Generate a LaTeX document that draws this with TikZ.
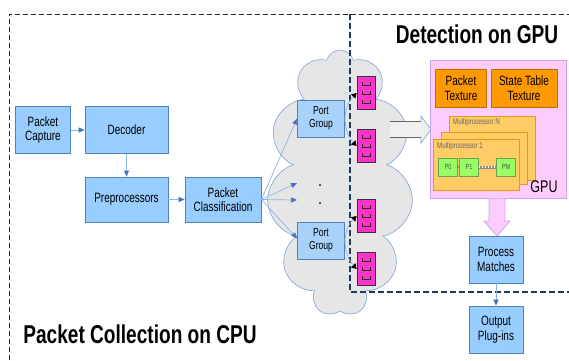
\documentclass[tikz,border=0pt]{standalone}
\usepackage{fontspec}
\newfontfamily\narrowsf[FakeStretch=0.74]{Liberation Sans}
\usetikzlibrary{shapes.symbols,arrows.meta}

\definecolor{boxblue}{HTML}{99CCFF}
\definecolor{boxedge}{HTML}{4F81BD}
\definecolor{portblue}{HTML}{A9D2FA}
\definecolor{lineblue}{HTML}{8DB4E2}
\definecolor{tipblue}{HTML}{4472C4}
\definecolor{queuepink}{HTML}{FF33CC}
\definecolor{cloudgray}{HTML}{E6E6E6}
\definecolor{cloudedge}{HTML}{7FA2D6}
\definecolor{gpupink}{HTML}{FFCCFF}
\definecolor{gpuedge}{HTML}{C8A4F0}
\definecolor{texorange}{HTML}{FF9900}
\definecolor{texedge}{HTML}{C07000}
\definecolor{mporange}{HTML}{FFCC66}
\definecolor{mpedge}{HTML}{E69A1A}
\definecolor{pgreen}{HTML}{99FF66}
\definecolor{pedge}{HTML}{6E9E50}
\definecolor{gpunavy}{HTML}{1F3A60}

\begin{document}
\begin{tikzpicture}[
		x=1pt, y=-1pt,
		every node/.style={font=\narrowsf\fontsize{13.5}{14.5}\selectfont, align=center, inner sep=0pt},
		stage/.style={rectangle, draw=boxedge, fill=boxblue, line width=0.8pt},
		portbox/.style={stage, fill=portblue, font=\narrowsf\fontsize{11.6}{13}\selectfont},
		queuebox/.style={rectangle, draw=black!80, fill=queuepink, line width=0.8pt, minimum width=18pt, minimum height=33pt},
		texbox/.style={rectangle, draw=texedge, fill=texorange, line width=0.6pt, minimum height=38pt},
		mpbox/.style={rectangle, draw=mpedge, fill=mporange, line width=0.6pt, minimum width=86pt},
		procbox/.style={rectangle, draw=pedge, fill=pgreen, line width=0.6pt, minimum width=19pt, minimum height=18pt, font=\narrowsf\fontsize{7.5}{8}\selectfont, text=black!70},
		title/.style={font=\narrowsf\bfseries\fontsize{25.8}{27}\selectfont},
		flow/.style={lineblue, line width=0.7pt, -{Triangle[length=6pt, width=5pt, color=tipblue]}},
		qflow/.style={lineblue, line width=0.7pt, -{Triangle[length=5pt, width=6pt, color=black]}}
	]
  \useasboundingbox (0,0) rectangle (569,360);
  % cloud behind everything
  \node (cloud) [cloud, cloud puffs=11, cloud ignores aspect, minimum width=146pt, minimum height=266pt, draw=cloudedge, fill=cloudgray, line width=0.6pt] at (340,183) {};
  % the two regions
  \draw[black!85, line width=1pt, dash pattern=on 5pt off 3pt] (9,360) -- (9,14) -- (569,14);
  \draw[gpunavy, line width=1.4pt, dash pattern=on 6pt off 3pt] (350,14) -- (350,292) -- (569,292);
  \node (cpu_title) [title] at (140,334) {Packet Collection on CPU};
  \node (gpu_title) [title] at (477,34) {Detection on GPU};

  \node (pkt_capture) [stage, minimum width=55pt, minimum height=47pt] at (43,130) {Packet\\Capture};
  \node (decoder) [stage, minimum width=83pt, minimum height=47pt] at (126.5,130) {Decoder};
  \node (preproc) [stage, minimum width=83pt, minimum height=45pt] at (126.5,199.5) {Preprocessors};
  \node (classify) [stage, minimum width=76pt, minimum height=45pt] at (223,199.5) {Packet\\Classification};
  \node (port_top) [portbox, minimum width=47pt, minimum height=37pt] at (321,118.5) {Port\\Group};
  \node (port_bot) [portbox, minimum width=47pt, minimum height=37pt] at (321,240.5) {Port\\Group};
  \node (dot_a) [circle, fill=black, minimum size=2pt] at (320,185) {};
  \node (dot_b) [circle, fill=black, minimum size=2pt] at (320,203) {};
  \coordinate (to_dot_a) at (297,183);
  \coordinate (to_dot_b) at (297,200);

  \node (q_1) [queuebox] at (366,93) {};
  \node (q_2) [queuebox] at (366,146) {};
  \node (q_3) [queuebox] at (366,216) {};
  \node (q_4) [queuebox] at (366,269) {};
  \foreach \q in {q_1,q_2,q_3,q_4}
    \foreach \dy in {-9,0,9}
      \draw[black!85, line width=0.6pt, shift={(\q)}] (-4,\dy-2) -- (-4,\dy+1.5) -- (4,\dy+1.5) -- (4,\dy-2);

  % big hollow arrow into the GPU
  \fill[cloudgray!60!white] (390,121.5) -- (421,121.5) -- (421,116) -- (431,129.5) -- (421,143) -- (421,137.5) -- (390,137.5) -- cycle;
  \draw[black!60, line width=0.6pt] (390,121.5) -- (421,121.5);
  \draw[black!60, line width=0.6pt] (390,137.5) -- (421,137.5);
  \draw[cloudedge, line width=0.6pt] (421,121.5) -- (421,116) -- (431,129.5) -- (421,143) -- (421,137.5);

  \node (gpu) [rectangle, draw=gpuedge, fill=gpupink, line width=0.8pt, minimum width=136pt, minimum height=138pt] at (498,129) {};
  \node (pkt_tex) [texbox, minimum width=51pt] at (461,88) {Packet\\Texture};
  \node (state_tex) [texbox, minimum width=66pt] at (524,88) {State Table\\Texture};
  \node (mp_n) [mpbox, minimum height=64pt] at (492,148) {};
  \node (mp_mid) [mpbox, minimum height=52pt] at (484,158) {};
  \node (mp_1) [mpbox, minimum height=51pt] at (476,164.5) {};
  \node (mp_n_label) [anchor=west, font=\narrowsf\fontsize{8.4}{9}\selectfont, text=black!60] at (453,122) {Multiprocessor N};
  \node (mp_1_label) [anchor=west, font=\narrowsf\fontsize{8.4}{9}\selectfont, text=black!60] at (437,146) {Multiprocessor 1};
  \node (p_0) [procbox] at (448,167) {P0};
  \node (p_1) [procbox] at (469,167) {P1};
  \node (p_m) [procbox] at (506,167) {PM};
  \draw[black!45, line width=1.5pt] (p_0) -- (p_1);
  \draw[black!45, line width=3pt] (p_1) -- (p_m);
  \draw[white, line width=1.2pt, dash pattern=on 1.5pt off 1.5pt] (p_1) -- (p_m);
  \node (gpu_label) [font=\narrowsf\fontsize{16.9}{18}\selectfont] at (544,187) {GPU};

  % pink block arrow down to the matches
  \draw[fill=gpupink, draw=gpuedge, line width=0.8pt] (489,198.5) -- (489,221) -- (484,221) -- (497,236) -- (510,221) -- (505,221) -- (505,198.5);
  \node (matches) [stage, minimum width=54pt, minimum height=47pt] at (496,259.5) {Process\\Matches};
  \node (plugins) [stage, minimum width=54pt, minimum height=47pt] at (496,329.5) {Output\\Plug-ins};

  \draw[flow] (pkt_capture) -- (decoder);
  \draw[flow] (decoder) -- (preproc);
  \draw[flow] (preproc) -- (classify);
  \draw[flow] (classify.east) -- (port_top.west);
  \draw[flow] (classify.east) -- (to_dot_a);
  \draw[flow] (classify.east) -- (to_dot_b);
  \draw[flow] (classify.east) -- ([yshift=2pt]port_bot.west);
  \draw[qflow] (port_top.east) to[bend left=20] (q_1.west);
  \draw[qflow] (port_top.east) to[bend right=20] (q_2.west);
  \draw[qflow] (port_bot.east) to[bend left=20] (q_3.west);
  \draw[qflow] (port_bot.east) to[bend right=20] (q_4.west);
  \draw[flow] (matches) -- (plugins);
\end{tikzpicture}
\end{document}
